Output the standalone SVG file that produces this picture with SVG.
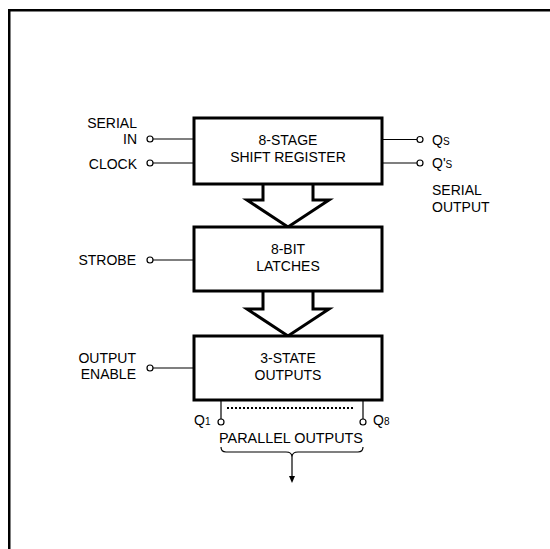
<svg xmlns="http://www.w3.org/2000/svg" width="550" height="549" viewBox="0 0 550 549">
<style>
.t{font-family:"Liberation Sans",Arial,sans-serif;font-size:14px;fill:#000}
.c{text-anchor:middle}
.r{text-anchor:end}
.sub{font-size:10px}
.box{fill:#fff;stroke:#000;stroke-width:3}
.ln{stroke:#000;stroke-width:1.2;fill:none}
.pin{fill:#fff;stroke:#000;stroke-width:1.2}
.big{fill:#fff;stroke:#000;stroke-width:3;stroke-linejoin:miter}
</style>
<rect width="550" height="549" fill="#fff"/>
<rect x="9.25" y="10.25" width="570" height="570" fill="none" stroke="#000" stroke-width="2.5"/>
<g id="connectors">
<path class="big" d="M263,184 V200 H247 L288,227 L329,200 H313 V184"/>
<path class="big" d="M263,291 V309 H247 L288,336 L329,309 H313 V291"/>
<line class="ln" x1="153" y1="139" x2="194" y2="139"/>
<line class="ln" x1="153" y1="163" x2="194" y2="163"/>
<line class="ln" x1="153" y1="260" x2="194" y2="260"/>
<line class="ln" x1="153" y1="368" x2="194" y2="368"/>
<line class="ln" x1="382" y1="139.5" x2="417" y2="139.5"/>
<line class="ln" x1="382" y1="163" x2="417" y2="163"/>
<line class="ln" x1="221" y1="400" x2="221" y2="419"/>
<line class="ln" x1="363" y1="400" x2="363" y2="419"/>
<line x1="227" y1="408" x2="355" y2="408" stroke="#000" stroke-width="2" stroke-dasharray="2 2"/>
<path class="ln" d="M221,447 Q221,452 226,452 H286 Q292,452 292,457 Q292,452 298,452 H358 Q363,452 363,447"/>
<line class="ln" x1="292" y1="457" x2="292" y2="477"/>
<path d="M289,476 L295,476 L292,483 Z" fill="#000"/>
</g>
<g id="shift-register">
<rect class="box" x="194" y="118" width="188" height="66"/>
<text class="t c" x="288" y="145">8-STAGE</text>
<text class="t c" x="288" y="162">SHIFT REGISTER</text>
</g>
<g id="latches">
<rect class="box" x="194" y="227" width="188" height="64"/>
<text class="t c" x="288" y="254">8-BIT</text>
<text class="t c" x="288" y="271">LATCHES</text>
</g>
<g id="outputs">
<rect class="box" x="194" y="336" width="188" height="64"/>
<text class="t c" x="288" y="363">3-STATE</text>
<text class="t c" x="288" y="380">OUTPUTS</text>
</g>
<g id="serial-in">
<circle class="pin" cx="150" cy="139" r="3"/>
<text class="t r" x="137" y="127.5">SERIAL</text>
<text class="t r" x="137" y="144">IN</text>
</g>
<g id="clock">
<circle class="pin" cx="150" cy="163" r="3"/>
<text class="t r" x="137" y="168.5">CLOCK</text>
</g>
<g id="strobe">
<circle class="pin" cx="150" cy="260" r="3"/>
<text class="t r" x="136" y="265">STROBE</text>
</g>
<g id="output-enable">
<circle class="pin" cx="150" cy="368" r="3"/>
<text class="t r" x="136" y="362.5">OUTPUT</text>
<text class="t r" x="136" y="379">ENABLE</text>
</g>
<g id="qs">
<circle class="pin" cx="420" cy="139.5" r="3"/>
<text class="t" x="432" y="144.5">Q<tspan class="sub">S</tspan></text>
</g>
<g id="qs-prime">
<circle class="pin" cx="420" cy="163" r="3"/>
<text class="t" x="432" y="168">Q'<tspan class="sub">S</tspan></text>
<text class="t" x="432" y="195">SERIAL</text>
<text class="t" x="432" y="211.5">OUTPUT</text>
</g>
<g id="q1">
<circle class="pin" cx="221" cy="422" r="3"/>
<text class="t" x="194" y="425">Q<tspan class="sub">1</tspan></text>
</g>
<g id="q8">
<circle class="pin" cx="363" cy="422" r="3"/>
<text class="t" x="373" y="425">Q<tspan class="sub">8</tspan></text>
</g>
<g id="parallel-outputs">
<text class="t c" x="291" y="443" style="font-size:14.4px">PARALLEL OUTPUTS</text>
</g>
</svg>
